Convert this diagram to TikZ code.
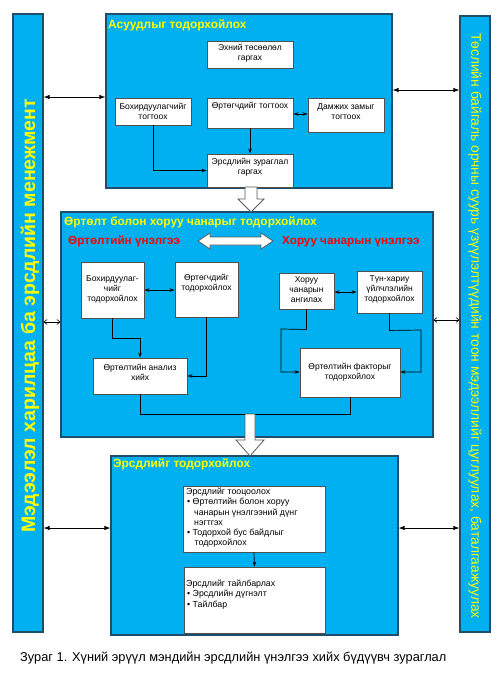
\documentclass[tikz,border=0pt]{standalone}
\usepackage{fontspec}
\setmainfont{Liberation Sans}
\usetikzlibrary{arrows.meta}
\definecolor{fillblue}{HTML}{00B0F0}
\definecolor{edgeblue}{HTML}{1F4E6B}
\definecolor{boxedge}{HTML}{505050}
\definecolor{ttlyellow}{HTML}{FFFF00}
\definecolor{ttlred}{HTML}{FF0000}
\begin{document}
\begin{tikzpicture}[x=1pt,y=-1pt,
  panel/.style={draw=edgeblue, fill=fillblue, line width=1.2pt, inner sep=0pt},
  ibox/.style={draw=boxedge, fill=white, line width=0.9pt, inner sep=0pt},
  itext/.style={align=center, inner sep=0pt, font=\fontsize{8.5}{10}\selectfont},
  ltext/.style={align=left, inner sep=0pt, anchor=north west, font=\fontsize{8.8}{10.2}\selectfont},
  ptitle/.style={anchor=west, inner sep=0pt, text=ttlyellow, font=\fontsize{11.9}{13}\selectfont\bfseries},
  rtitle/.style={anchor=west, inner sep=0pt, text=ttlred, font=\fontsize{11.7}{13}\selectfont\bfseries},
  conn/.style={line width=0.7pt, -{Stealth[length=5pt,width=3.5pt]}},
  dconn/.style={line width=0.7pt, {Stealth[length=5pt,width=3.5pt]}-{Stealth[length=5pt,width=3.5pt]}},
  plain/.style={line width=0.7pt},
  barlink/.style={line width=0.8pt, {Latex[length=6pt,width=4.5pt]}-{Latex[length=6pt,width=4.5pt]}},
  openlink/.style={line width=0.6pt, {Straight Barb[length=3pt,width=5pt]}-{Straight Barb[length=3pt,width=5pt]}},
  blockarrow/.style={draw=black!65, fill=white, line width=0.8pt}
]
\useasboundingbox (0,0) rectangle (501,673);

% side bars
\node[panel, minimum width=30pt, minimum height=618pt] (lbar) at (28,323) {};
\node[rotate=90, inner sep=0pt, text=ttlyellow, font=\fontsize{19.5}{21}\selectfont\bfseries] (lbart) at (30,316) {Мэдээлэл харилцаа ба эрсдлийн менежмент};
\node[panel, minimum width=30pt, minimum height=616pt] (rbar) at (475,324) {};
\node[rotate=-90, inner sep=0pt, text=ttlyellow, font=\fontsize{13.8}{15}\selectfont] (rbart) at (475,326) {Төслийн байгаль орчны суурь үзүүлэлтүүдийн тоон мэдээллийг цуглуулах, баталгаажуулах};

% panels
\node[panel, minimum width=286pt, minimum height=174pt] (ptop) at (249,101) {};
\node[panel, minimum width=372pt, minimum height=225pt] (pmid) at (247,324.5) {};
\node[panel, minimum width=287pt, minimum height=179pt] (pbot) at (254.5,545.5) {};
\node[ptitle] (ttop) at (108,25) {Асуудлыг тодорхойлох};
\node[ptitle] (tmid) at (64,222) {Өртөлт болон хоруу  чанарыг тодорхойлох};
\node[ptitle] (tbot) at (113,464) {Эрсдлийг тодорхойлох};
\node[rtitle] (rexp) at (68,241) {Өртөлтийн үнэлгээ};
\node[rtitle] (rtox) at (282,242) {Хоруу  чанарын үнэлгээ};

% top panel boxes
\node[ibox, minimum width=86pt, minimum height=27pt] (e1) at (250,54.5) {};
\node[itext] (e1t) at (250,53.5) {Эхний төсөөлөл\\гаргах};
\node[ibox, minimum width=76pt, minimum height=27pt] (b1) at (153,111.5) {};
\node[itext] (b1t) at (153,111.5) {Бохирдуулагчийг\\тогтоох};
\node[ibox, minimum width=86pt, minimum height=30pt] (o1) at (250,113) {};
\node[itext] (o1t) at (250,106.5) {Өртөгчдийг тогтоох};
\node[ibox, minimum width=76pt, minimum height=34pt] (d1) at (346,115) {};
\node[itext] (d1t) at (346,112) {Дамжих замыг\\тогтоох};
\node[ibox, minimum width=86pt, minimum height=33pt] (r1) at (250,170.5) {};
\node[itext] (r1t) at (250,167.5) {Эрсдлийн зураглал\\гаргах};

\draw[dconn] (o1.east |- 0,114) -- (d1.west |- 0,114);
\draw[conn] (o1.south) -- (r1.north);
\draw[conn] (b1.south) |- (r1.west);

% middle panel boxes
\node[ibox, minimum width=63pt, minimum height=56pt] (m1) at (112.5,290) {};
\node[itext] (m1t) at (112.5,289) {Бохирдуулаг-\\чийг\\тодорхойлох};
\node[ibox, minimum width=63pt, minimum height=55pt] (m2) at (206.5,289.5) {};
\node[itext] (m2t) at (206.5,283.5) {Өртөгчдийг\\тодорхойлох};
\node[ibox, minimum width=94pt, minimum height=36pt] (m3) at (140,376) {};
\node[itext] (m3t) at (140,372) {Өртөлтийн анализ\\хийх};
\node[ibox, minimum width=55pt, minimum height=36pt] (h1) at (306.5,291) {};
\node[itext] (h1t) at (306.5,290) {Хоруу\\чанарын\\ангилах};
\node[ibox, minimum width=65pt, minimum height=42pt] (t1) at (389.5,292) {};
\node[itext] (t1t) at (389.5,289) {Түн-хариу\\үйлчлэлийн\\тодорхойлох};
\node[ibox, minimum width=100pt, minimum height=49pt] (f1) at (350,372.5) {};
\node[itext] (f1t) at (350,372) {Өртөлтийн факторыг\\тодорхойлох};

\draw[dconn] (m1.east |- 0,290) -- (m2.west |- 0,290);
\draw[conn] (m1.south) -- ++(0,20) -| (m3.north);
\draw[conn] (m2.south) |- (m3.east);
\draw[dconn] (h1.east |- 0,292) -- (t1.west |- 0,292);
\draw[conn] (h1.south) -- ++(0,20) -- (281,329) -- (281,372) -- (f1.west |- 0,372);
\draw[conn] (t1.south) -- ++(0,17) -- (421,330) -- (421,372) -- (f1.east |- 0,372);

% block arrows
\coordinate (ba2l) at (245,414);
\coordinate (ba2r) at (255,414);
\draw[plain] (m3.south) |- (ba2l);
\draw[plain] (f1.south) |- (ba2r);
\draw[blockarrow] (245,187) -- (257,187) -- (257,199) -- (264,199) -- (251,212) -- (238,199) -- (245,199) -- cycle;
\draw[blockarrow] (198,241) -- (210,233) -- (210,237) -- (261,237) -- (261,233) -- (273,241) -- (261,249) -- (261,245) -- (210,245) -- (210,249) -- cycle;
\draw[blockarrow] (ba2l) -- (ba2r) -- (255,440) -- (264,440) -- (250,456) -- (236,440) -- (245,440) -- cycle;

% bottom panel boxes
\node[ibox, minimum width=142pt, minimum height=66pt] (k1) at (254,519) {};
\node[ltext] (k1t) at (186,488) {Эрсдлийг тооцоолох\\
\hspace*{1pt}• Өртөлтийн болон хоруу\\
\hspace*{8pt}чанарын үнэлгээний дүнг\\
\hspace*{8pt}нэгтгэх\\
\hspace*{1pt}• Тодорхой бус байдлыг\\
\hspace*{8.5pt}тодорхойлох};
\node[ibox, minimum width=141pt, minimum height=66pt] (k2) at (254.5,600) {};
\node[ltext] (k2t) at (186,580) {Эрсдлийг тайлбарлах\\
\hspace*{1pt}• Эрсдлийн дүгнэлт\\
\hspace*{1pt}• Тайлбар};
\draw[conn] (k1.south) -- (k2.north);

% links to side bars
\draw[barlink] (lbar.east |- 0,97) -- (ptop.west |- 0,97);
\draw[barlink] (ptop.east |- 0,90) -- (rbar.west |- 0,90);
\draw[openlink] (lbar.east |- 0,322) -- (pmid.west |- 0,322);
\draw[openlink] (pmid.east |- 0,320) -- (rbar.west |- 0,320);
\draw[barlink] (lbar.east |- 0,528) -- (pbot.west |- 0,528);
\draw[barlink] (pbot.east |- 0,528) -- (rbar.west |- 0,528);

% caption
\node[anchor=west, inner sep=0pt, font=\fontsize{12.8}{14}\selectfont] (cap) at (20,658) {Зураг 1. Хүний эрүүл мэндийн эрсдлийн үнэлгээ хийх бүдүүвч зураглал};
\end{tikzpicture}
\end{document}
